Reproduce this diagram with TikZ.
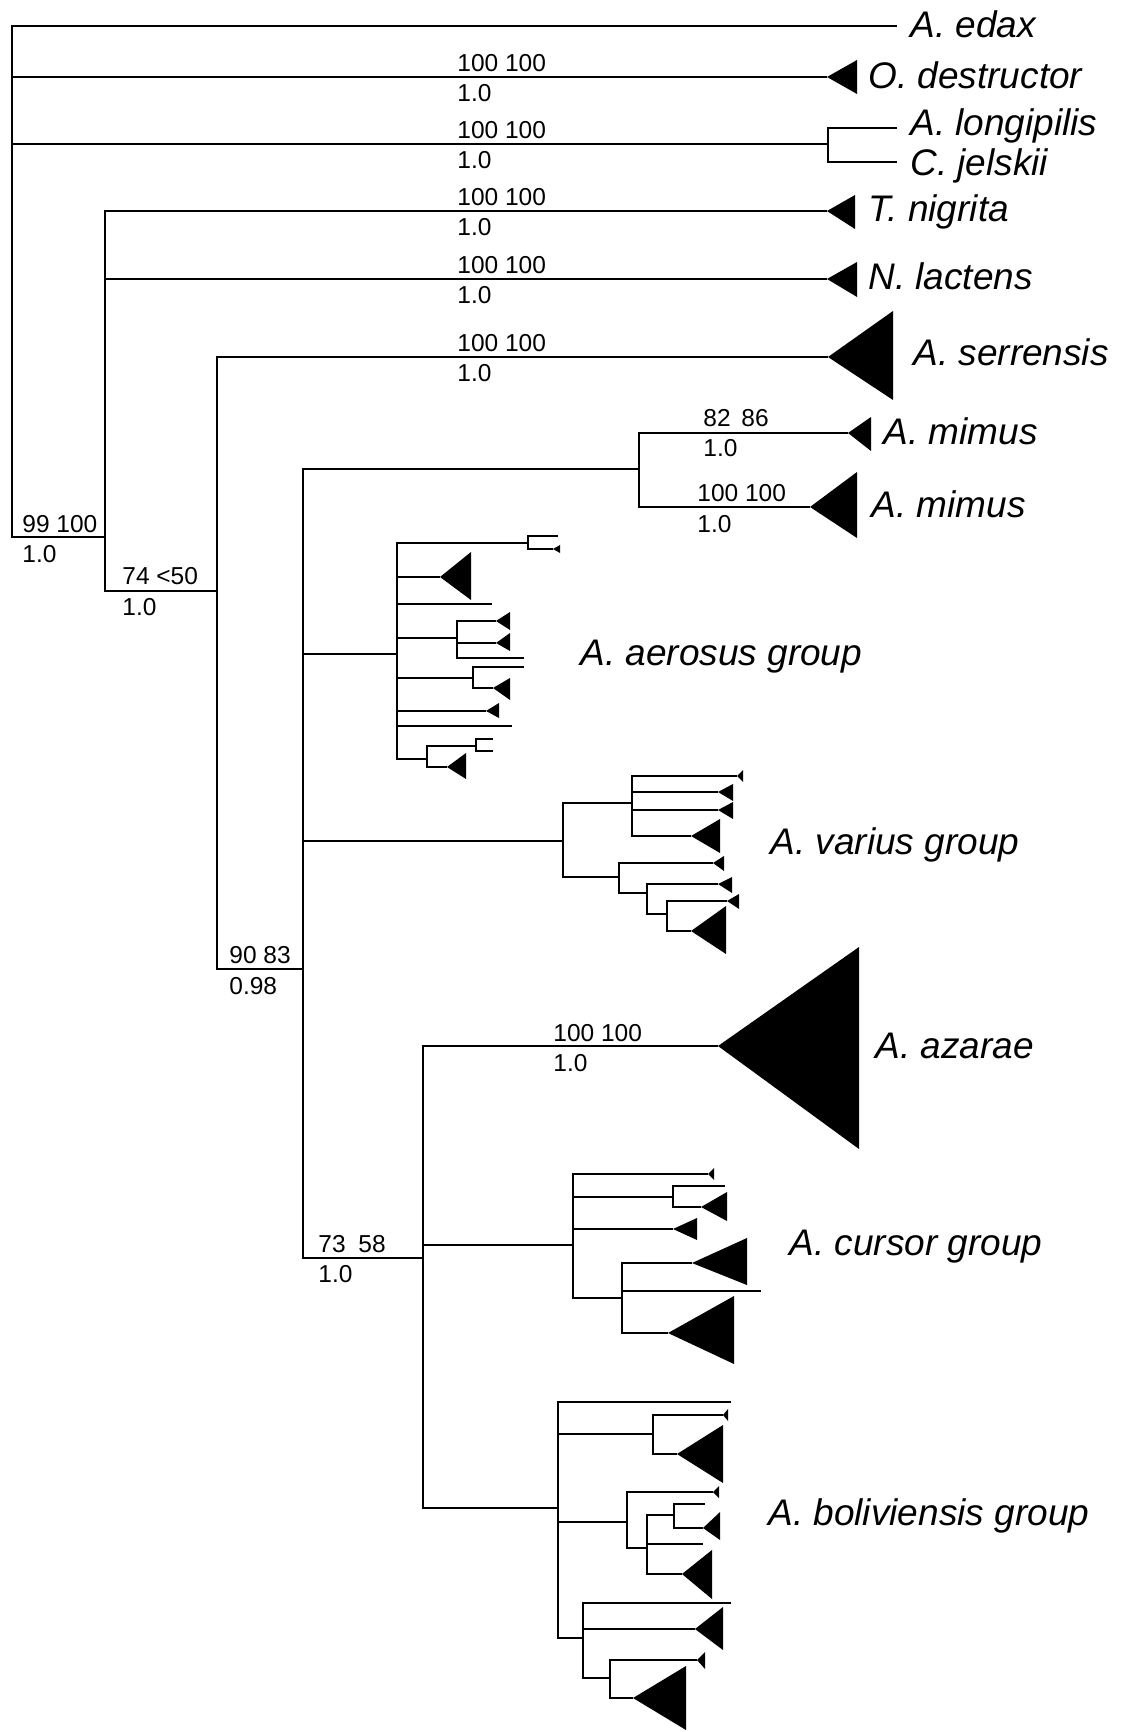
\documentclass[tikz,border=0pt]{standalone}
\usepackage{fontspec}
\setmainfont{Liberation Sans}
\newcommand\cladetri[5]{\fill (#1,#2) -- (#3,#4) -- (#3,#5) -- cycle;}
\tikzset{
  br/.style={line width=1.1pt},
  sp/.style={anchor=base west, inner sep=0pt, font=\fontsize{18.5}{22}\selectfont\itshape},
  sup/.style={anchor=base west, inner sep=0pt, font=\fontsize{12.25}{14}\selectfont},
}
\begin{document}
\begin{tikzpicture}[x=0.5pt,y=-0.5pt]
\useasboundingbox (0,0) rectangle (1125,1732);
% ---------- main nodes ----------
\coordinate (n1) at (12,537);
\coordinate (n2) at (105,591);
\coordinate (n3) at (217,969);
\coordinate (n4) at (303,1258);
\coordinate (n5) at (423,1508);
\coordinate (nlc) at (828,162);
\coordinate (nmi) at (639,507);
\coordinate (edax) at (897,26);
\coordinate (odes) at (827,77);
\coordinate (tnig) at (827,211);
\coordinate (nlac) at (827,279);
\coordinate (aser) at (828,357);
\coordinate (ami1) at (848,433);
\coordinate (ami2) at (810,507);
\coordinate (aaza) at (718,1046);
\begin{scope}[br]
\draw (edax) -| (n1) -- (105,537);
\draw (12,77) -- (odes);
\draw (12,144) -- (828,144);
\draw (897,128) -| (nlc) -- (897,162);
\draw (tnig) -| (n2) -- (217,591);
\draw (105,279) -- (nlac);
\draw (aser) -| (n3) -- (303,969);
\draw (639,469) -| (n4) -- (423,1258);
\draw (ami1) -| (nmi) -- (ami2);
\draw (aaza) -| (n5) -- (558,1508);
% aerosus
\draw (303,654) -- (397,654);
\draw (528,543) -| (397,759) -- (427,759);
\draw (558,536) -| (528,549) -- (553,549);
\draw (397,577) -- (440,577);
\draw (397,604) -- (492,604);
\draw (397,638) -- (457,638);
\draw (496,621) -| (457,658) -- (524,658);
\draw (457,643) -- (496,643);
\draw (397,678) -- (473,678);
\draw (524,667) -| (473,688) -- (493,688);
\draw (397,711) -- (486,711);
\draw (397,726) -- (512,726);
\draw (476,746) -| (427,767) -- (447,767);
\draw (493,739) -| (476,751) -- (493,751);
% varius
\draw (303,841) -- (563,841);
\draw (632,803) -| (563,877) -- (619,877);
\draw (737,776) -| (632,836) -- (691,836);
\draw (632,792) -- (718,792);
\draw (632,810) -- (718,810);
\draw (713,863) -| (619,893) -- (647,893);
\draw (718,884) -| (647,914) -- (667,914);
\draw (727,901) -| (667,931) -- (691,931);
% cursor
\draw (423,1245) -- (573,1245);
\draw (708,1174) -| (573,1298) -- (622,1298);
\draw (573,1197) -- (673,1197);
\draw (725,1186) -| (673,1207) -- (701,1207);
\draw (573,1229) -- (673,1229);
\draw (692,1263) -| (622,1333) -- (668,1333);
\draw (622,1291) -- (761,1291);
% boliviensis
\draw (731,1402) -| (558,1638) -- (583,1638);
\draw (558,1434) -- (653,1434);
\draw (723,1415) -| (653,1454) -- (677,1454);
\draw (558,1522) -- (627,1522);
\draw (713,1492) -| (627,1548) -- (647,1548);
\draw (674,1515) -| (647,1574) -- (682,1574);
\draw (647,1544) -- (703,1544);
\draw (705,1504) -| (674,1528) -- (703,1528);
\draw (731,1603) -| (583,1678) -- (610,1678);
\draw (583,1629) -- (695,1629);
\draw (697,1660) -| (610,1698) -- (633,1698);
\end{scope}
% ---------- collapsed clades ----------
\cladetri{827}{77}{857}{60}{94}
\cladetri{827}{211}{855}{195}{229}
\cladetri{827}{279}{857}{262}{297}
\cladetri{828}{357}{893}{311}{400}
\cladetri{848}{433}{871}{417}{451}
\cladetri{810}{507}{857}{472}{538}
\cladetri{718}{1046}{859}{947}{1149}
% aerosus
\cladetri{553}{549}{560}{545}{553}
\cladetri{440}{577}{471}{552}{600}
\cladetri{496}{621}{510}{612}{630}
\cladetri{496}{643}{510}{633}{651}
\cladetri{493}{688}{510}{678}{700}
\cladetri{486}{711}{499}{703}{718}
\cladetri{447}{767}{466}{753}{779}
% varius
\cladetri{737}{776}{743}{770}{782}
\cladetri{718}{792}{733}{784}{801}
\cladetri{718}{810}{733}{802}{819}
\cladetri{691}{836}{720}{819}{853}
\cladetri{713}{863}{724}{856}{871}
\cladetri{718}{884}{732}{877}{893}
\cladetri{727}{901}{739}{894}{909}
\cladetri{691}{931}{726}{906}{954}
% cursor
\cladetri{708}{1174}{714}{1168}{1180}
\cladetri{701}{1207}{727}{1192}{1221}
\cladetri{673}{1229}{697}{1218}{1240}
\cladetri{692}{1263}{747}{1238}{1285}
\cladetri{668}{1333}{734}{1296}{1364}
% boliviensis
\cladetri{723}{1415}{728}{1409}{1421}
\cladetri{677}{1454}{723}{1425}{1483}
\cladetri{713}{1492}{719}{1486}{1498}
\cladetri{703}{1528}{720}{1512}{1540}
\cladetri{682}{1574}{712}{1550}{1599}
\cladetri{695}{1629}{723}{1607}{1650}
\cladetri{697}{1660}{705}{1652}{1669}
\cladetri{633}{1698}{686}{1666}{1730}
% ---------- taxon labels ----------
\node[sp] (l1) at (910,38) {A. edax};
\node[sp] (l2) at (868,89) {O. destructor};
\node[sp] (l3) at (910,136) {A. longipilis};
\node[sp] (l4) at (910,176) {C. jelskii};
\node[sp] (l5) at (868,222) {T. nigrita};
\node[sp] (l6) at (868,290) {N. lactens};
\node[sp] (l7) at (913,366) {A. serrensis};
\node[sp] (l8) at (883,445) {A. mimus};
\node[sp] (l9) at (871,517) {A. mimus};
\node[sp] (l10) at (580,665) {A. aerosus group};
\node[sp] (l11) at (770,854) {A. varius group};
\node[sp] (l12) at (875,1058) {A. azarae};
\node[sp] (l13) at (789,1255) {A. cursor group};
\node[sp] (l14) at (768,1525) {A. boliviensis group};
% ---------- support values ----------
\node[sup] (s1a) at (457,72) {100 100};
\node[sup] (s1b) at (457,102) {1.0};
\node[sup] (s2a) at (457,139) {100 100};
\node[sup] (s2b) at (457,169) {1.0};
\node[sup] (s3a) at (457,206) {100 100};
\node[sup] (s3b) at (457,236) {1.0};
\node[sup] (s4a) at (457,274) {100 100};
\node[sup] (s4b) at (457,304) {1.0};
\node[sup] (s5a) at (457,352) {100 100};
\node[sup] (s5b) at (457,382) {1.0};
\node[sup] (s6a) at (703,427) {82 \hspace{2pt}86};
\node[sup] (s6b) at (703,457) {1.0};
\node[sup] (s7a) at (697,502) {100 100};
\node[sup] (s7b) at (697,532) {1.0};
\node[sup] (s8a) at (22,532) {99 100};
\node[sup] (s8b) at (22,562) {1.0};
\node[sup] (s9a) at (122,584) {74 <50};
\node[sup] (s9b) at (122,615) {1.0};
\node[sup] (s10a) at (229,963) {90 83};
\node[sup] (s10b) at (229,994) {0.98};
\node[sup] (s11a) at (553,1041) {100 100};
\node[sup] (s11b) at (553,1071) {1.0};
\node[sup] (s12a) at (318,1252) {73 \hspace{3pt}58};
\node[sup] (s12b) at (318,1282) {1.0};
\end{tikzpicture}
\end{document}
